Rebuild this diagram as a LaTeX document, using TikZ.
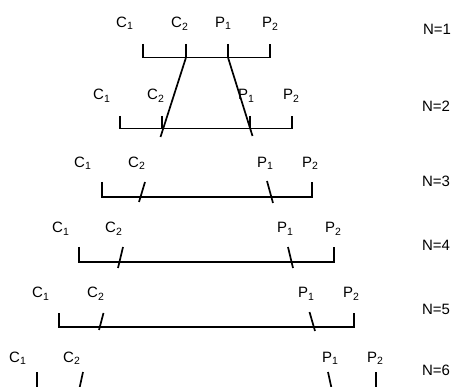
\documentclass[tikz,border=0pt]{standalone}
\usepackage{fontspec}
\setmainfont{Liberation Sans}
\begin{document}
\begin{tikzpicture}[x=1pt,y=-1pt,
  lbl/.style={inner sep=0pt,anchor=base west,font=\fontsize{15}{17}\selectfont},
  nlbl/.style={inner sep=0pt,anchor=base,font=\fontsize{15}{17}\selectfont},
  bar/.style={line width=1.7pt}]
  \useasboundingbox (0,0) rectangle (455,387);
  \clip (0,0) rectangle (455,387);
  % N=1
  \node[lbl] (ca1) at (116,27.7) {C\textsubscript{1}};
  \node[lbl] (cb1) at (171,27.7) {C\textsubscript{2}};
  \node[lbl] (pa1) at (215,27.7) {P\textsubscript{1}};
  \node[lbl] (pb1) at (262,27.7) {P\textsubscript{2}};
  \node[nlbl] (n1) at (437,35) {N=1};
  \draw[bar] (143,44) -- (143,57.5) -- (270,57.5) -- (270,44);
  \draw[bar] (186,44) -- (186,57.5);
  \draw[bar] (228,44) -- (228,57.5);
  \coordinate (sc1) at (186,57.5);
  \coordinate (sp1) at (228,57.5);
  % N=2
  \node[lbl] (ca2) at (93,100) {C\textsubscript{1}};
  \node[lbl] (cb2) at (147,100) {C\textsubscript{2}};
  \node[lbl] (pa2) at (238,100) {P\textsubscript{1}};
  \node[lbl] (pb2) at (283,100) {P\textsubscript{2}};
  \node[nlbl] (n2) at (436,112) {N=2};
  \draw[bar] (120,116) -- (120,128.5) -- (292,128.5) -- (292,116);
  \draw[bar] (162,116) -- (162,128.5);
  \draw[bar] (250,116) -- (250,128.5);
  \coordinate (sc2) at (160.5,137);
  \coordinate (sp2) at (252.5,136);
  \draw[bar] (sc1) -- (sc2);
  \draw[bar] (sp1) -- (sp2);
  % N=3
  \node[lbl] (ca3) at (74,167.5) {C\textsubscript{1}};
  \node[lbl] (cb3) at (128,167.5) {C\textsubscript{2}};
  \node[lbl] (pa3) at (257,167.5) {P\textsubscript{1}};
  \node[lbl] (pb3) at (302,167.5) {P\textsubscript{2}};
  \node[nlbl] (n3) at (436,187) {N=3};
  \draw[bar] (102,182) -- (102,197) -- (312,197) -- (312,182);
  \draw[bar] (145,182) -- (139,202);
  \draw[bar] (267,181) -- (273,203);
  % N=4
  \node[lbl] (ca4) at (52,233) {C\textsubscript{1}};
  \node[lbl] (cb4) at (105,233) {C\textsubscript{2}};
  \node[lbl] (pa4) at (277,233) {P\textsubscript{1}};
  \node[lbl] (pb4) at (325,233) {P\textsubscript{2}};
  \node[nlbl] (n4) at (436,251) {N=4};
  \draw[bar] (79,247) -- (79,262) -- (334,262) -- (334,247);
  \draw[bar] (123,247) -- (118,268);
  \draw[bar] (288,247) -- (293,268);
  % N=5
  \node[lbl] (ca5) at (32,298) {C\textsubscript{1}};
  \node[lbl] (cb5) at (87,298) {C\textsubscript{2}};
  \node[lbl] (pa5) at (298,298) {P\textsubscript{1}};
  \node[lbl] (pb5) at (343,298) {P\textsubscript{2}};
  \node[nlbl] (n5) at (436,315) {N=5};
  \draw[bar] (59,313) -- (59,327) -- (354,327) -- (354,313);
  \draw[bar] (103.5,313) -- (99,330);
  \draw[bar] (309.5,312) -- (315,331);
  % N=6
  \node[lbl] (ca6) at (9,362) {C\textsubscript{1}};
  \node[lbl] (cb6) at (63,362) {C\textsubscript{2}};
  \node[lbl] (pa6) at (322,362) {P\textsubscript{1}};
  \node[lbl] (pb6) at (367,362) {P\textsubscript{2}};
  \node[nlbl] (n6) at (436,375) {N=6};
  \draw[bar] (37,372) -- (37,392) -- (376,392) -- (376,372);
  \draw[bar] (83,372) -- (78,395);
  \draw[bar] (328,372) -- (333,395);
\end{tikzpicture}
\end{document}
